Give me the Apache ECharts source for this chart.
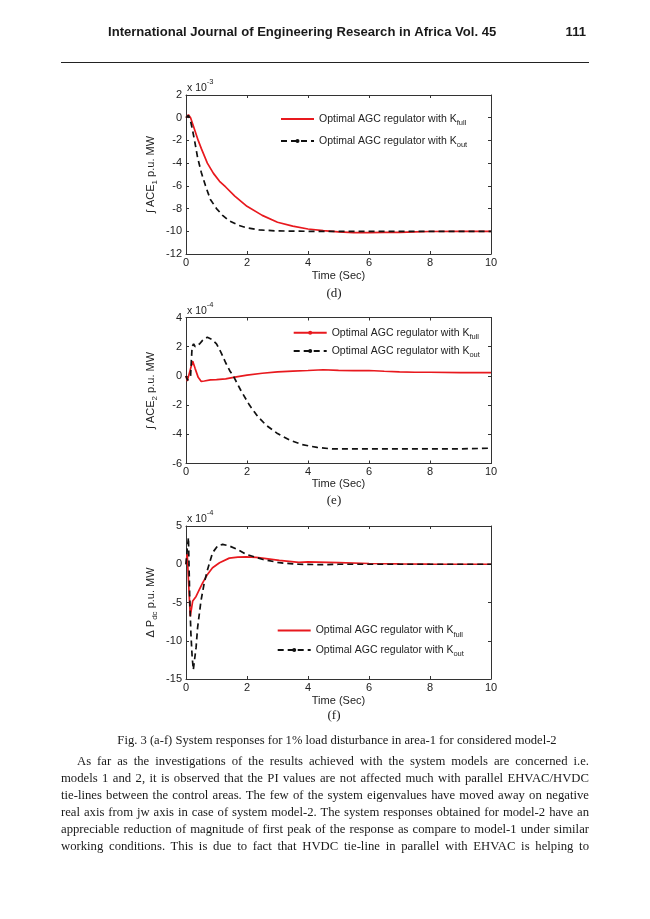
<!DOCTYPE html>
<html><head><meta charset="utf-8">
<script src="https://cdn.jsdelivr.net/npm/echarts@6/dist/echarts.min.js"></script>
<style>
html,body{margin:0;padding:0;background:#fff;}
#chart{position:absolute;left:0;top:0;width:650px;height:919px;}
.ln{position:absolute;left:61px;width:528px;height:17px;line-height:17px;font-family:"Liberation Serif","Times New Roman",serif;font-size:12.7px;color:#1a1a1a;text-align:justify;text-align-last:justify;overflow:visible;}
</style></head>
<body>
<div id="chart"></div>
<div class="ln" style="top:753px;left:77px;width:512px;">As far as the investigations of the results achieved with the system models are concerned i.e.</div>
<div class="ln" style="top:770px;">models 1 and 2, it is observed that the PI values are not affected much with parallel EHVAC/HVDC</div>
<div class="ln" style="top:787px;">tie-lines between the control areas. The few of the system eigenvalues have moved away on negative</div>
<div class="ln" style="top:804px;">real axis from jw axis in case of system model-2. The system responses obtained for model-2 have an</div>
<div class="ln" style="top:821px;">appreciable reduction of magnitude of first peak of the response as compare to model-1 under similar</div>
<div class="ln" style="top:838px;">working conditions. This is due to fact that HVDC tie-line in parallel with EHVAC is helping to</div>
<script>
// ---------- data (values in the units printed on each axis) ----------
const xTicks = [0, 2, 4, 6, 8, 10];
// (d) integral ACE1, x 10^-3
const yTicksD = [-12, -10, -8, -6, -4, -2, 0, 2];
const tFullD = [0, 0.08, 0.15, 0.25, 0.4, 0.5, 0.7, 0.9, 1.1, 1.3, 1.6, 2.0, 2.5, 3.0, 3.5, 4.0, 4.5, 5.0, 5.5, 6.0, 6.5, 7.0, 7.5, 8.0, 9.0, 10];
const vFullD = [0, 0.25, 0.0, -0.8, -2.0, -2.7, -4.0, -4.9, -5.6, -6.1, -6.9, -7.8, -8.6, -9.2, -9.55, -9.8, -9.95, -10.05, -10.12, -10.12, -10.1, -10.1, -10.05, -10.02, -10.0, -10.0];
const tOutD = [0, 0.08, 0.15, 0.2, 0.28, 0.38, 0.5, 0.64, 0.8, 1.0, 1.2, 1.4, 1.7, 2.0, 2.4, 3.0, 4.0, 6.0, 8.0, 10];
const vOutD = [0, 0.2, -0.3, -0.9, -2.0, -3.5, -4.8, -6.0, -7.2, -8.0, -8.6, -9.05, -9.45, -9.7, -9.88, -9.97, -10.0, -10.0, -10.0, -10.0];
// (e) integral ACE2, x 10^-4
const yTicksE = [-6, -4, -2, 0, 2, 4];
const tFullE = [0, 0.04, 0.1, 0.15, 0.22, 0.3, 0.4, 0.5, 0.6, 0.8, 1.0, 1.3, 1.6, 2.0, 2.5, 3.0, 3.5, 4.0, 4.5, 5.0, 5.5, 6.0, 6.5, 7.0, 7.5, 8.0, 9.0, 10];
const vFullE = [0, -0.35, -0.25, 0.5, 1.0, 0.5, -0.1, -0.38, -0.35, -0.27, -0.25, -0.2, -0.08, 0.05, 0.18, 0.28, 0.33, 0.37, 0.42, 0.38, 0.36, 0.37, 0.32, 0.28, 0.25, 0.25, 0.22, 0.22];
const tOutE = [0, 0.05, 0.1, 0.15, 0.2, 0.25, 0.3, 0.35, 0.45, 0.55, 0.7, 0.85, 1.0, 1.15, 1.3, 1.45, 1.55, 1.8, 2.08, 2.36, 2.64, 3.0, 3.4, 3.8, 4.3, 4.8, 6.0, 8.0, 9.0, 10];
const vOutE = [0, -0.3, -0.35, 0, 2.0, 2.2, 2.0, 1.9, 2.2, 2.45, 2.65, 2.5, 2.2, 1.6, 0.9, 0.3, 0, -1.0, -2.0, -2.8, -3.4, -3.95, -4.4, -4.7, -4.9, -5.0, -5.0, -5.0, -5.0, -4.95];
// (f) delta Pdc, x 10^-4
const yTicksF = [-15, -10, -5, 0, 5];
const tFullF = [0, 0.04, 0.08, 0.14, 0.22, 0.33, 0.44, 0.55, 0.71, 0.87, 1.1, 1.42, 1.7, 1.97, 2.3, 2.5, 3.06, 3.7, 4.0, 5.0, 6.0, 7.0, 8.0, 10];
const vFullF = [0, 1.4, -2.0, -6.8, -4.8, -4.2, -3.3, -2.4, -1.3, -0.45, 0.2, 0.8, 0.93, 0.96, 0.9, 0.8, 0.5, 0.25, 0.3, 0.2, 0.1, 0.05, 0.02, 0];
const tOutF = [0, 0.04, 0.08, 0.12, 0.16, 0.2, 0.24, 0.28, 0.33, 0.38, 0.49, 0.6, 0.71, 0.87, 1.04, 1.2, 1.42, 1.7, 1.97, 2.5, 3.06, 3.7, 4.5, 5.0, 6.0, 10];
const vOutF = [0, 2.0, 3.5, -4.0, -9.0, -12.0, -13.8, -12.5, -10.9, -8.3, -4.8, -2.4, -0.65, 1.5, 2.4, 2.6, 2.4, 1.9, 1.3, 0.65, 0.2, 0, -0.05, 0, 0, 0];

const legendText = 'Optimal AGC regulator with K';

// ---------- build ----------
const FONT = '"Liberation Sans", Arial, sans-serif';
const SERIF = '"Liberation Serif", "Times New Roman", serif';
const AX = '#333';
const RED = '#e8191e';
const BLK = '#111';
const pair = (t, v) => t.map((x, i) => [x, v[i]]);

const panels = [
  {grid:{left:186, top:95, width:305, height:159}, y:yTicksD, nameGap:16,
   yName:'{a|∫ ACE}{s|1}{a| p.u. MW}', full:pair(tFullD, vFullD), out:pair(tOutD, vOutD),
   leg:{left:280, top:113.5, gap:8.4, fullDot:false}, key:'d'},
  {grid:{left:186, top:317.5, width:305, height:146}, y:yTicksE, nameGap:15,
   yName:'{a|∫ ACE}{s|2}{a| p.u. MW}', full:pair(tFullE, vFullE), out:pair(tOutE, vOutE),
   leg:{left:292.7, top:327.3, gap:4.6, fullDot:true}, key:'e'},
  {grid:{left:186, top:526, width:305, height:153}, y:yTicksF, nameGap:16,
   yName:'{a|Δ P}{s|dc}{a| p.u. MW}', full:pair(tFullF, vFullF), out:pair(tOutF, vOutF),
   leg:{left:276.7, top:625, gap:6, fullDot:false}, key:'f'}
];

const grid = [], xAxis = [], yAxis = [], series = [], legend = [];
const tick = {show:true, inside:true, length:3, lineStyle:{color:AX, width:1}};
const axLine = {show:true, onZero:false, lineStyle:{color:AX, width:1}};
const lbl = {color:'#222', fontFamily:FONT, fontSize:11};
const subRich = {
  a:{fontFamily:FONT, fontSize:10.5, color:'#222', lineHeight:12},
  s:{fontFamily:FONT, fontSize:7.5, color:'#222', lineHeight:16, verticalAlign:'bottom'}
};
const nameRich = {
  a:{fontFamily:FONT, fontSize:11, color:'#222', lineHeight:12},
  s:{fontFamily:FONT, fontSize:8, color:'#222', lineHeight:16, verticalAlign:'bottom'}
};

panels.forEach((p, i) => {
  grid.push(p.grid);
  const yMin = p.y[0], yMax = p.y[p.y.length-1], yInt = p.y[1]-p.y[0];
  const xMin = xTicks[0], xMax = xTicks[xTicks.length-1], xInt = xTicks[1]-xTicks[0];
  xAxis.push({gridIndex:i, type:'value', min:xMin, max:xMax, interval:xInt, position:'bottom',
    axisLine:axLine, axisTick:tick, splitLine:{show:false},
    axisLabel:Object.assign({margin:3}, lbl),
    name:'Time (Sec)', nameLocation:'middle', nameGap:p.nameGap,
    nameTextStyle:{color:'#222', fontFamily:FONT, fontSize:11}});
  xAxis.push({gridIndex:i, type:'value', min:xMin, max:xMax, interval:xInt, position:'top',
    axisLine:axLine, axisTick:tick, splitLine:{show:false}, axisLabel:{show:false}});
  yAxis.push({gridIndex:i, type:'value', min:yMin, max:yMax, interval:yInt, position:'left',
    axisLine:axLine, axisTick:tick, splitLine:{show:false},
    axisLabel:Object.assign({margin:4}, lbl),
    name:p.yName, nameLocation:'middle', nameRotate:90, nameGap:27,
    nameTextStyle:{rich:nameRich}});
  yAxis.push({gridIndex:i, type:'value', min:yMin, max:yMax, interval:yInt, position:'right',
    axisLine:axLine, axisTick:tick, splitLine:{show:false}, axisLabel:{show:false}});
  const fullName = p.key + '-full', outName = p.key + '-out';
  series.push({name:fullName, type:'line', xAxisIndex:2*i, yAxisIndex:2*i, data:p.full,
    showSymbol:false, symbol:'circle', smooth:false, animation:false,
    lineStyle:{color:RED, width:1.7}, itemStyle:{color:RED}});
  series.push({name:outName, type:'line', xAxisIndex:2*i, yAxisIndex:2*i, data:p.out,
    showSymbol:false, symbol:'circle', animation:false, z:3,
    lineStyle:{color:BLK, width:1.7, type:[6,4]}, itemStyle:{color:BLK}});
  legend.push({
    data:[{name:fullName, itemStyle:p.leg.fullDot ? {} : {opacity:0}}, {name:outName}],
    orient:'vertical', left:p.leg.left, top:p.leg.top, padding:0,
    itemWidth:33, itemHeight:5, itemGap:p.leg.gap, selectedMode:false,
    formatter:(n) => '{a|' + legendText + '}{s|' + n.split('-')[1] + '}',
    textStyle:{rich:subRich}
  });
});

const supText = (x, y, exp) => ({type:'text', left:x, top:y, silent:true,
  style:{text:'{a|x 10}{b|' + exp + '}', rich:{
    a:{fontFamily:FONT, fontSize:10.5, fill:'#222', lineHeight:16, verticalAlign:'bottom'},
    b:{fontFamily:FONT, fontSize:7.5, fill:'#222', lineHeight:16, verticalAlign:'top'}}}});
const cText = (txt, x, y, font, size, weight, align) => ({type:'text', x:x, y:y, silent:true,
  style:{text:txt, fontFamily:font, fontSize:size, fontWeight:weight||'normal', fill:'#1a1a1a',
    align:align||'center', verticalAlign:'middle'}});

const graphic = [
  cText('International Journal of Engineering Research in Africa Vol. 45', 108, 32, FONT, 13.1, 'bold', 'left'),
  cText('111', 586, 32, FONT, 13.1, 'bold', 'right'),
  {type:'line', silent:true, shape:{x1:61, y1:62.5, x2:589, y2:62.5}, style:{stroke:'#222', lineWidth:1}},
  supText(187, 78, '-3'),
  supText(187, 301, '-4'),
  supText(187, 509, '-4'),
  cText('(d)', 334, 294, SERIF, 13),
  cText('(e)', 334, 501, SERIF, 13),
  cText('(f)', 334, 716, SERIF, 13),
  cText('Fig. 3 (a-f) System responses for 1% load disturbance in area-1 for considered model-2', 337, 741, SERIF, 12.6)
];

const chart = echarts.init(document.getElementById('chart'), null, {renderer:'canvas'});
chart.setOption({animation:false, backgroundColor:'#fff', grid, xAxis, yAxis, series, legend, graphic});
</script>
</body></html>
